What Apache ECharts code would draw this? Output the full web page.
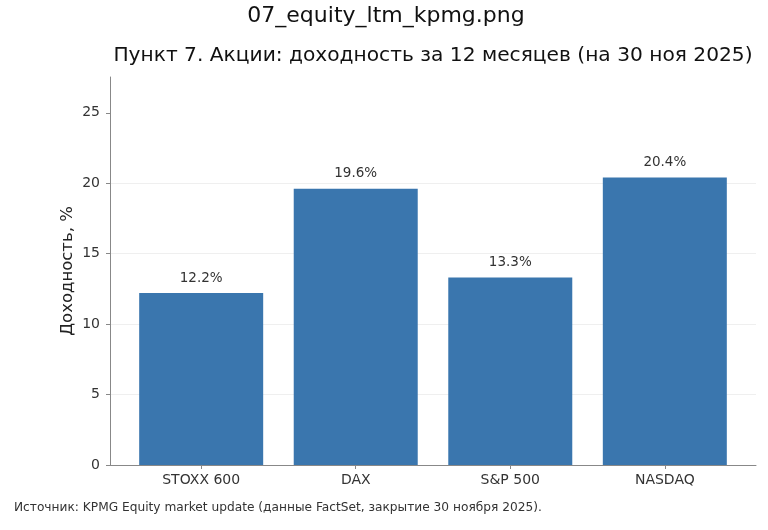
<!DOCTYPE html>
<html><head><meta charset="utf-8">
<script src="https://cdn.jsdelivr.net/npm/echarts@6/dist/echarts.min.js"></script>
<style>html,body{margin:0;padding:0;background:#fff}#c{width:768px;height:530px}</style>
</head><body><div id="c"></div>
<script>
const categories = ['STOXX 600', 'DAX', 'S&P 500', 'NASDAQ'];
const values = [12.2, 19.6, 13.3, 20.4];
const yTicks = [0, 5, 10, 15, 20, 25];

const font = 'DejaVu Sans';
const chart = echarts.init(document.getElementById('c'), null, {renderer: 'canvas'});
chart.setOption({
  animation: false,
  backgroundColor: '#ffffff',
  textStyle: {fontFamily: font},
  title: [
    {text: '07_equity_ltm_kpmg.png', left: 381, textAlign: 'center', top: 0,
     textStyle: {fontFamily: font, fontSize: 22, fontWeight: 'normal', color: '#111'}},
    {text: 'Пункт 7. Акции: доходность за 12 месяцев (на 30 ноя 2025)', left: 428, textAlign: 'center', top: 41,
     textStyle: {fontFamily: font, fontSize: 20.2, fontWeight: 'normal', color: '#111'}}
  ],
  graphic: [{type: 'text', left: 14, top: 502,
    style: {text: 'Источник: KPMG Equity market update (данные FactSet, закрытие 30 ноября 2025).',
      font: '12.2px "DejaVu Sans"', fill: '#333'}}],
  grid: {left: 110, right: 12, top: 77, bottom: 65, containLabel: false},
  xAxis: {
    type: 'value', min: -0.59, max: 3.59,
    splitLine: {show: false},
    axisLine: {show: true, onZero: false, lineStyle: {color: '#888', width: 1}},
    axisTick: {show: true, customValues: categories.map((c, i) => i), length: 4, lineStyle: {color: '#888'}},
    axisLabel: {customValues: categories.map((c, i) => i), formatter: v => categories[Math.round(v)] || '',
      fontFamily: font, fontSize: 14, color: '#333', margin: 8}
  },
  yAxis: {
    type: 'value', min: 0, max: 27.54, interval: 5,
    name: 'Доходность, %', nameLocation: 'middle', nameGap: 34, nameRotate: 90, nameMoveOverlap: false,
    nameTextStyle: {fontFamily: font, fontSize: 16.5, color: '#222'},
    axisLine: {show: true, onZero: false, lineStyle: {color: '#888', width: 1}},
    axisTick: {show: true, customValues: yTicks, length: 4, lineStyle: {color: '#888', width: 1}},
    axisLabel: {customValues: yTicks, fontFamily: font, fontSize: 14, color: '#333', margin: 10},
    splitLine: {show: true, showMaxLine: false, lineStyle: {color: '#efefef', width: 1}}
  },
  series: [{
    type: 'bar',
    data: values.map((v, i) => [i, v]),
    barWidth: 124,
    itemStyle: {color: '#3a76ae'},
    label: {show: true, position: 'top', distance: 8, formatter: p => p.value[1].toFixed(1) + '%',
      fontFamily: font, fontSize: 13.5, color: '#333'}
  }]
});
</script></body></html>
